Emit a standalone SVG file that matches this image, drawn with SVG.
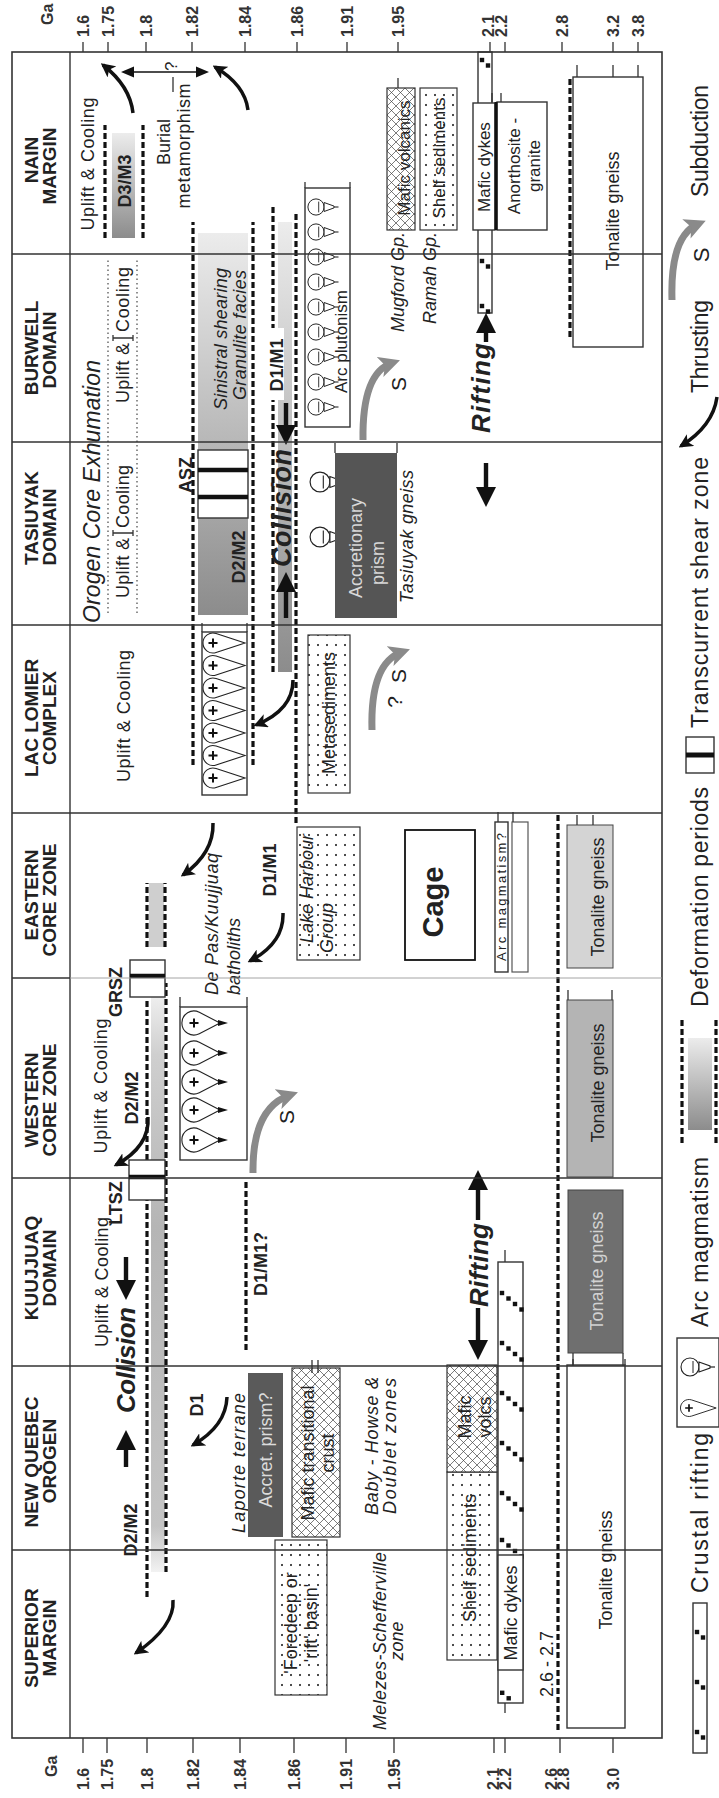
<svg xmlns="http://www.w3.org/2000/svg" width="719" height="1798" viewBox="0 0 719 1798">
<style>
.t{font-family:"Liberation Sans",Arial,Helvetica,sans-serif;fill:#222}
.hd{font-weight:bold;font-size:19px;text-anchor:middle;fill:#222}
.ax{font-weight:bold;font-size:16px;fill:#333}
.lb{font-size:18px}
.m{text-anchor:middle}
.e{text-anchor:end}
.it{font-style:italic}
.b{font-weight:bold}
.lg{font-size:23px}
.fr{fill:none;stroke:#333;stroke-width:1.6}
.dv{fill:none;stroke:#333;stroke-width:1.4}
.tk{fill:none;stroke:#333;stroke-width:1.3}
.dl{fill:none;stroke:#111;stroke-width:3.2;stroke-dasharray:6 3}
.dt{fill:none;stroke:#555;stroke-width:1.3;stroke-dasharray:1.5 3}
.th{fill:none;stroke:#111;stroke-width:3.5;marker-end:url(#ah)}
.sb{fill:none;stroke:#8a8a8a;stroke-width:7;marker-end:url(#ag)}
.bx{fill:#fff;stroke:#333;stroke-width:1.4}
.ba{fill:#111}
.sz{stroke:#111;stroke-width:4.5}
</style>
<defs>
<marker id="ah" viewBox="0 0 10 10" refX="8" refY="5" markerWidth="4" markerHeight="4" orient="auto"><path d="M0,0L10,5L0,10L2.5,5Z" fill="#111"/></marker>
<marker id="ag" viewBox="0 0 10 10" refX="6" refY="5" markerWidth="3" markerHeight="3" orient="auto"><path d="M0,0L10,5L0,10L2.5,5Z" fill="#8a8a8a"/></marker>
<pattern id="dots" width="10" height="9" patternUnits="userSpaceOnUse"><rect width="10" height="9" fill="#fff"/><circle cx="3" cy="3" r="1.1" fill="#222"/></pattern>
<pattern id="xh" width="9" height="9" patternUnits="userSpaceOnUse"><rect width="9" height="9" fill="#fff"/><path d="M0,0L9,9M9,0L0,9" stroke="#444" stroke-width="0.7"/></pattern>
<linearGradient id="gd"><stop offset="0" stop-color="#8c8c8c"/><stop offset="1" stop-color="#ececec"/></linearGradient>
<linearGradient id="gL"><stop offset="0" stop-color="#f2f2f2"/><stop offset="0.08" stop-color="#c4c4c4"/><stop offset="0.6" stop-color="#b5b5b5"/><stop offset="0.9" stop-color="#cfcfcf"/><stop offset="1" stop-color="#eeeeee"/></linearGradient>
<g id="tdL"><path d="M9.5,3.1L0,32L-9.5,3.1A10,10 0 1 1 9.5,3.1Z" fill="#fff" stroke="#222" stroke-width="1.1"/><path d="M-4.5,0H4.5M0,-4.5V4.5" stroke="#111" stroke-width="2"/></g>
<g id="tdW"><path d="M10.7,5.3L0,26L-10.7,5.3A12,12 0 1 1 10.7,5.3Z" fill="#fff" stroke="#222" stroke-width="1.1"/><path d="M-4.5,0H4.5M0,-4.5V4.5" stroke="#111" stroke-width="2"/><path d="M-3,24L3,24L0,34Z" fill="#111"/></g>
<g id="av"><circle r="9" fill="#fff" stroke="#222" stroke-width="1.1"/><path d="M-6,3H6" stroke="#222" stroke-width="1"/><path d="M-5,9L5,9L1,20L-1,20Z" fill="#fff" stroke="#222" stroke-width="1.1"/><path d="M0,20V25" stroke="#222" stroke-width="1.2"/></g>
<g id="rm4"><rect x="-2.2" y="-2.2" width="4.4" height="4.4"/><rect x="-7.7" y="4.3" width="4.4" height="4.4"/><rect x="-13.2" y="10.8" width="4.4" height="4.4"/><rect x="-18.7" y="17.3" width="4.4" height="4.4"/></g>
<g id="rm2"><rect x="-2.2" y="-2.2" width="4.4" height="4.4"/><rect x="-7.7" y="3.8" width="4.4" height="4.4"/></g>
</defs>
<rect width="719" height="1798" fill="#fff"/>
<g transform="translate(0,1798) rotate(-90)" class="t">

<g id="axis-left">
<path class="tk" d="M45,83H60M45,107H60M45,147H60M45,193H60M45,240H60M45,294H60M45,346H60M45,394H60M45,494H60M45,505H60M45,560H60M45,613H60"/>
<text class="ax" x="21" y="57">Ga</text>
<text class="ax" x="8" y="89">1.6</text>
<text class="ax" x="8" y="113">1.75</text>
<text class="ax" x="8" y="153">1.8</text>
<text class="ax" x="8" y="199">1.82</text>
<text class="ax" x="8" y="246">1.84</text>
<text class="ax" x="8" y="300">1.86</text>
<text class="ax" x="8" y="352">1.91</text>
<text class="ax" x="8" y="400">1.95</text>
<text class="ax" x="8" y="499">2.1</text>
<text class="ax" x="8" y="511">2.2</text>
<text class="ax" x="8" y="557">2.6</text>
<text class="ax" x="8" y="569">2.8</text>
<text class="ax" x="8" y="619">3.0</text>
</g>

<g id="axis-right">
<path class="tk" d="M1746,83H1756M1746,108H1756M1746,146H1756M1746,192H1756M1746,245H1756M1746,297H1756M1746,347H1756M1746,398H1756M1746,490H1756M1746,505H1756M1746,562H1756M1746,613H1756M1746,638H1756"/>
<text class="ax" x="1773" y="53">Ga</text>
<text class="ax" x="1761" y="89">1.6</text>
<text class="ax" x="1761" y="114">1.75</text>
<text class="ax" x="1761" y="152">1.8</text>
<text class="ax" x="1761" y="198">1.82</text>
<text class="ax" x="1761" y="251">1.84</text>
<text class="ax" x="1761" y="303">1.86</text>
<text class="ax" x="1761" y="353">1.91</text>
<text class="ax" x="1761" y="404">1.95</text>
<text class="ax" x="1761" y="494">2.1</text>
<text class="ax" x="1761" y="507">2.2</text>
<text class="ax" x="1761" y="568">2.8</text>
<text class="ax" x="1761" y="619">3.2</text>
<text class="ax" x="1761" y="644">3.8</text>
</g>

<g id="deformation-bands">
<rect x="226" y="151" width="575" height="14" fill="url(#gL)"/>
<rect x="851" y="149" width="64" height="15" fill="#cfcfcf"/>
<rect x="1183" y="198" width="382" height="50" fill="url(#gd)"/>
<rect x="1126" y="278" width="450" height="14" fill="url(#gd)"/>
<rect x="1560" y="112" width="105" height="23" fill="url(#gd)"/>
<path class="dl" d="M201,147H598M226,166H815"/>
<path class="dl" d="M638,147H798" stroke-width="2.2" stroke-dasharray="5 4"/>
<path class="dl" d="M851,147H915M851,165H915"/>
<path class="dl" d="M1033,193H1576M1033,253H1576"/>
<path class="dl" d="M1126,273H1591M975,296H1585"/>
<path class="dl" d="M1560,105H1673M1560,143H1673"/>
<path class="dl" d="M448,246H618"/>
<path class="dl" d="M68,558H985M1461,570H1720"/>
<path class="dt" d="M1185,108H1540M1185,137H1540"/>
</g>

<g id="superior-margin">
<text class="hd" x="160" y="38">SUPERIOR</text>
<text class="hd" x="160" y="56">MARGIN</text>
<rect x="103" y="275" width="155" height="52" fill="url(#dots)" stroke="#333" stroke-width="1.2"/>
<text class="lb m" x="175" y="297" font-size="17">'Foredeep or</text>
<text class="lb m" x="175" y="317" font-size="17">'rift' basin'</text>
<text class="lb m it" x="157" y="386" textLength="178">Melezes-Schefferville</text>
<text class="lb m it" x="157" y="403">zone</text>
<rect class="bx" x="70" y="567" width="363" height="58"/>
<path class="tk" d="M433,573H439M433,625H439"/>
<text class="lb m" x="228" y="612">Tonalite gneiss</text>
<text class="lb" x="101" y="553">2.6 - 2.7</text>
</g>

<g id="crustal-rifting-west">
<rect class="bx" x="95" y="498" width="441" height="25"/>
<g fill="#111">
<use href="#rm4" transform="translate(505,502)"/>
<use href="#rm4" transform="translate(455,502)"/>
<use href="#rm4" transform="translate(405,502)"/>
<use href="#rm4" transform="translate(355,502)"/>
<use href="#rm4" transform="translate(305,502)"/>
<use href="#rm4" transform="translate(258,502)"/>
<rect x="103" y="500" width="4.4" height="4.4"/><rect x="97.5" y="506.5" width="4.4" height="4.4"/>
</g>
<rect class="bx" x="128" y="498" width="115" height="25"/>
<text class="lb m" x="185" y="517">Mafic dykes</text>
<path class="tk" d="M536,505H548M85,505H95"/>
</g>

<g id="new-quebec-orogen">
<text class="hd" x="336" y="38">NEW QUEBEC</text>
<text class="hd" x="337" y="56">OROGEN</text>
<text class="lb m b" x="268" y="137">D2/M2</text>
<text class="lb m b" x="393" y="203">D1</text>
<text class="lb m it" x="335" y="245" textLength="140">Laporte terrane</text>
<rect x="261" y="248" width="164" height="35" fill="#5a5a5a"/>
<text class="lb m" x="348" y="272" style="fill:#dcdcdc">Accret. prism?</text>
<rect x="261" y="292" width="169" height="48" fill="url(#xh)" stroke="#333" stroke-width="1.2"/>
<text class="lb m" x="345" y="314" font-size="17">Mafic transitional</text>
<text class="lb m" x="345" y="334" font-size="17">crust</text>
<path class="tk" d="M425,312H438M425,318H438"/>
<text class="lb m it" x="352" y="378" textLength="138">Baby - Howse &amp;</text>
<text class="lb m it" x="352" y="396" textLength="136">Doublet zones</text>
<rect x="138" y="447" width="188" height="50" fill="url(#dots)" stroke="#333" stroke-width="1.2"/>
<text class="lb m" x="240" y="476">Shelf sediments</text>
<rect x="326" y="447" width="107" height="50" fill="url(#xh)" stroke="#333" stroke-width="1.2"/>
<text class="lb m" x="381" y="471">Mafic</text>
<text class="lb m" x="381" y="491">volcs</text>
</g>

<g id="kuujjuaq-domain">
<text class="hd" x="530" y="38">KUUJJUAQ</text>
<text class="hd" x="530" y="56">DOMAIN</text>
<text class="lb m" x="516" y="108" textLength="130">Uplift &amp; Cooling</text>
<text class="lb m b" x="595" y="122">LTSZ</text>
<rect class="bx" x="598" y="129" width="40" height="36"/>
<path class="sz" d="M621,129V165"/>
<text class="m b it" x="438" y="135" font-size="26" textLength="106">Collision</text>
<text class="lb m b" x="534" y="267">D1/M1?</text>
<rect x="445" y="568" width="163" height="55" fill="#6f6f6f" stroke="#444"/>
<path class="tk" d="M432,573H445M432,623H445"/>
<text class="lb m" x="527" y="603" style="fill:#d2d2d2">Tonalite gneiss</text>
<text class="m b it" x="533" y="488" font-size="26" textLength="84">Rifting</text>
</g>

<g id="western-core-zone">
<text class="hd" x="698" y="38">WESTERN</text>
<text class="hd" x="698" y="56">CORE ZONE</text>
<text class="lb m" x="712" y="107" textLength="135">Uplift &amp; Cooling</text>
<text class="lb m b" x="806" y="122">GRSZ</text>
<text class="lb m b" x="700" y="138">D2/M2</text>
<rect class="bx" x="801" y="130" width="37" height="35"/>
<path class="sz" d="M822,130V165"/>
<rect class="bx" x="638" y="180" width="153" height="67"/>
<path class="tk" d="M791,180H801M791,247H801"/>
<use href="#tdW" transform="translate(658,194)"/>
<use href="#tdW" transform="translate(688,194)"/>
<use href="#tdW" transform="translate(716,194)"/>
<use href="#tdW" transform="translate(745,194)"/>
<use href="#tdW" transform="translate(775,194)"/>
<text class="m" x="681" y="294" font-size="21">S</text>
<rect x="621" y="567" width="177" height="46" fill="#b4b4b4" stroke="#444"/>
<path class="tk" d="M798,568H808M798,612H808"/>
<text class="lb m" x="715" y="604">Tonalite gneiss</text>
</g>

<g id="eastern-core-zone">
<text class="hd" x="903" y="38">EASTERN</text>
<text class="hd" x="898" y="56">CORE ZONE</text>
<text class="lb it" x="803" y="218" textLength="142">De Pas/Kuujjuaq</text>
<text class="lb it" x="803" y="240">batholiths</text>
<text class="lb m b" x="928" y="276">D1/M1</text>
<rect x="838" y="297" width="133" height="63" fill="url(#dots)" stroke="#333" stroke-width="1.2"/>
<text class="lb it" x="855" y="313">Lake Harbour</text>
<text class="lb it" x="845" y="333">Group</text>
<rect x="838" y="405" width="130" height="70" fill="#fff" stroke="#111" stroke-width="1.8"/>
<text class="m b" x="896" y="443" font-size="29">Cage</text>
<rect class="bx" x="826" y="495" width="150" height="13"/>
<text x="901" y="506" class="m" font-size="13" textLength="128">Arc magmatism?</text>
<rect x="826" y="512" width="150" height="16" fill="#fff" stroke="#555" stroke-width="1.2"/>
<path class="tk" d="M976,498H986M976,513H986"/>
<rect x="830" y="567" width="143" height="46" fill="#d4d4d4" stroke="#444"/>
<path class="tk" d="M973,577H983M973,593H983"/>
<text class="lb m" x="901" y="604">Tonalite gneiss</text>
</g>

<g id="lac-lomier-complex">
<text class="hd" x="1080" y="38">LAC LOMIER</text>
<text class="hd" x="1080" y="56">COMPLEX</text>
<text class="lb m" x="1082" y="130" textLength="132">Uplift &amp; Cooling</text>
<rect class="bx" x="1003" y="202" width="163" height="45"/>
<path class="tk" d="M1166,202H1175M1166,247H1175"/>
<use href="#tdL" transform="translate(1020,213)"/>
<use href="#tdL" transform="translate(1042.5,213)"/>
<use href="#tdL" transform="translate(1065,213)"/>
<use href="#tdL" transform="translate(1087.5,213)"/>
<use href="#tdL" transform="translate(1110,213)"/>
<use href="#tdL" transform="translate(1132.5,213)"/>
<use href="#tdL" transform="translate(1155,213)"/>
<rect x="1005" y="308" width="158" height="42" fill="url(#dots)" stroke="#333" stroke-width="1.2"/>
<text class="lb m" x="1085" y="335">Metasediments</text>
<text class="m" x="1096" y="402" font-size="21">?</text>
<text class="m" x="1122" y="406" font-size="21">S</text>
</g>

<g id="tasiuyak-domain">
<text class="hd" x="1280" y="38">TASIUYAK</text>
<text class="hd" x="1271" y="56">DOMAIN</text>
<text class="it" x="1175" y="100" font-size="23" textLength="263">Orogen Core Exhumation</text>
<text class="lb" x="1200" y="129" textLength="60">Uplift &amp;</text>
<path class="tk" d="M1265,113V133M1262,113H1268M1262,133H1268"/>
<text class="lb" x="1270" y="129" textLength="63">Cooling</text>
<text class="lb m b" x="1323" y="192">ASZ</text>
<rect class="bx" x="1280" y="198" width="68" height="50"/>
<path class="sz" d="M1301,198V248M1328,198V248"/>
<text class="lb m b" x="1241" y="245">D2/M2</text>
<text class="m b it" x="1290" y="291" font-size="27" textLength="118">Collision</text>
<use href="#av" transform="translate(1316,320) scale(1.1)"/>
<use href="#av" transform="translate(1261,320) scale(1.1)"/>
<rect x="1180" y="335" width="165" height="62" fill="#555"/>
<path class="tk" d="M1345,335H1355M1345,397H1355"/>
<text class="lb m" x="1250" y="362" style="fill:#d8d8d8">Accretionary</text>
<text class="lb m" x="1235" y="384" style="fill:#d8d8d8">prism</text>
<text class="lb it" x="1195" y="413" textLength="133">Tasiuyak gneiss</text>
</g>

<g id="burwell-domain">
<text class="hd" x="1450" y="38">BURWELL</text>
<text class="hd" x="1448" y="56">DOMAIN</text>
<text class="lb" x="1395" y="129" textLength="60">Uplift &amp;</text>
<path class="tk" d="M1460,113V133M1457,113H1463M1457,133H1463"/>
<text class="lb" x="1466" y="129" textLength="65">Cooling</text>
<text class="lb it" x="1388" y="227" textLength="142">Sinistral shearing</text>
<text class="lb it" x="1398" y="246" textLength="130">Granulite facies</text>
<rect x="1398" y="266" width="72" height="18" fill="#fff"/>
<text class="lb m b" x="1433" y="283">D1/M1</text>
<rect class="bx" x="1371" y="305" width="239" height="45"/>
<path class="tk" d="M1610,305H1616M1610,350H1616"/>
<use href="#av" transform="translate(1391,316) scale(0.9)"/>
<use href="#av" transform="translate(1416,316) scale(0.9)"/>
<use href="#av" transform="translate(1441,316) scale(0.9)"/>
<use href="#av" transform="translate(1466,316) scale(0.9)"/>
<use href="#av" transform="translate(1491,316) scale(0.9)"/>
<use href="#av" transform="translate(1516,316) scale(0.9)"/>
<use href="#av" transform="translate(1541,316) scale(0.9)"/>
<use href="#av" transform="translate(1566,316) scale(0.9)"/>
<use href="#av" transform="translate(1591,316) scale(0.9)"/>
<text x="1405" y="347" font-size="17">Arc plutonism</text>
<text class="m" x="1414" y="406" font-size="21">S</text>
<text class="m b it" x="1410" y="490" font-size="26" textLength="90">Rifting</text>
<text class="lb e it" x="1566" y="404">Mugford Gp.</text>
<text class="lb e it" x="1566" y="436">Ramah Gp.</text>
</g>

<g id="crustal-rifting-east">
<rect class="bx" x="1485" y="478" width="261" height="14"/>
<g fill="#111">
<use href="#rm2" transform="translate(1738,482)"/>
<use href="#rm2" transform="translate(1537,482)"/>
<use href="#rm2" transform="translate(1492,482)"/>
</g>
</g>

<g id="nain-margin">
<text class="hd" x="1638" y="38">NAIN</text>
<text class="hd" x="1632" y="56">MARGIN</text>
<text class="lb m" x="1634" y="94" textLength="133">Uplift &amp; Cooling</text>
<text class="lb m b" x="1617" y="131">D3/M3</text>
<text class="lb m" x="1656" y="170">Burial</text>
<text class="lb m" x="1652" y="190" textLength="125">metamorphism</text>
<path d="M1726,130V200" stroke="#111" stroke-width="1.6"/>
<path d="M1726,121L1720.5,134L1731.5,134Z M1726,209L1720.5,196L1731.5,196Z" fill="#111"/>
<text x="1727" y="177" font-size="17">?</text>
<path class="tk" d="M1706,173H1721"/>
<rect x="1568" y="387" width="142" height="28" fill="url(#xh)" stroke="#333" stroke-width="1.2"/>
<text class="m" x="1640" y="410" font-size="17">Mafic volcanics</text>
<rect x="1568" y="420" width="142" height="37" fill="url(#dots)" stroke="#333" stroke-width="1.2"/>
<text class="m" x="1640" y="445" font-size="17">Shelf sediments</text>
<path class="tk" d="M1710,398H1720"/>
<rect class="bx" x="1568" y="473" width="127" height="22"/>
<text class="m" x="1631" y="490" font-size="17">Mafic dykes</text>
<rect class="bx" x="1568" y="497" width="128" height="50"/>
<path d="M1568,496H1696" stroke="#111" stroke-width="3"/>
<path class="tk" d="M1696,492H1705M1696,501H1705"/>
<text class="m" x="1632" y="520" font-size="17">Anorthosite -</text>
<text class="m" x="1632" y="540" font-size="17">granite</text>
<rect class="bx" x="1451" y="573" width="270" height="70"/>
<path class="tk" d="M1721,577H1733M1721,613H1733M1721,638H1733"/>
<text class="lb m" x="1587" y="619">Tonalite gneiss</text>
</g>

<g id="connectors">
<path class="th" d="M198,173Q172,175 145,136"/>
<path class="th" d="M401,227Q372,226 353,193"/>
<path class="th" d="M681,148Q652,150 633,116"/>
<path class="th" d="M885,283Q855,284 837,250"/>
<path class="th" d="M975,213Q945,214 923,183"/>
<path class="th" d="M1118,293Q1088,293 1073,256"/>
<path class="th" d="M1685,133Q1712,130 1733,103"/>
<path class="th" d="M1688,248Q1713,245 1731,215"/>
<path class="sb" d="M625,253Q690,252 703,290"/>
<path class="sb" d="M1068,372Q1135,370 1146,402"/>
<path class="sb" d="M1358,363Q1425,362 1435,392"/>
<path class="ba" d="M331,123.8H348V116L368,126L348,136V128.2H331Z"/>
<path class="ba" d="M541,123.8H518V116L498,126L518,136V128.2H541Z"/>
<path class="ba" d="M1180,283.8H1206V276L1226,286L1206,296V288.2H1180Z"/>
<path class="ba" d="M1395,283.8H1373V276L1353,286L1373,296V288.2H1395Z"/>
<path class="ba" d="M490,475.8H458V468L438,478L458,488V480.2H490Z"/>
<path class="ba" d="M578,475.8H608V468L628,478L608,488V480.2H578Z"/>
<path class="ba" d="M1456,483.8H1465V476L1485,486L1465,496V488.2H1456Z"/>
<path class="ba" d="M1335,483.8H1311V476L1291,486L1311,496V488.2H1335Z"/>
</g>

<g id="frame">
<rect class="fr" x="60" y="12" width="1686" height="650"/>
<path class="dv" d="M60,70H1746M248,12V662M432,12V662M620,12V662M985,12V662M1173,12V662M1356,12V662M1544,12V662M820,12V70"/>
<path d="M820,70V662" stroke="#9a9a9a" stroke-width="0.9" fill="none"/>
</g>

<g id="legend">
<rect class="bx" x="45" y="693" width="150" height="14"/>
<g fill="#111">
<use href="#rm2" transform="translate(166,697)"/>
<use href="#rm2" transform="translate(116,697)"/>
<use href="#rm2" transform="translate(66,697)"/>
</g>
<text class="lg" x="205" y="708" textLength="160">Crustal rifting</text>
<rect class="bx" x="371" y="677" width="89" height="42"/>
<use href="#tdL" transform="translate(390,689) scale(0.85)"/>
<use href="#av" transform="translate(431,690)"/>
<text class="lg" x="471" y="708" textLength="170">Arc magmatism</text>
<rect x="668" y="688" width="92" height="24" fill="url(#gd)"/>
<path class="dl" d="M655,682H778M655,716H778"/>
<text class="lg" x="791" y="708" textLength="220">Deformation periods</text>
<rect class="bx" x="1025" y="686" width="36" height="28"/>
<path d="M1043,686V714" stroke="#111" stroke-width="5"/>
<text class="lg" x="1070" y="708" textLength="271">Transcurrent shear zone</text>
<path class="th" d="M1401,717Q1372,713 1352,681"/>
<text class="lg" x="1405" y="708" textLength="93">Thrusting</text>
<path class="sb" d="M1498,672Q1562,670 1574,698"/>
<text class="m" x="1543" y="709" font-size="22">S</text>
<text class="lg" x="1601" y="708" textLength="112">Subduction</text>
</g>
</g>
</svg>
